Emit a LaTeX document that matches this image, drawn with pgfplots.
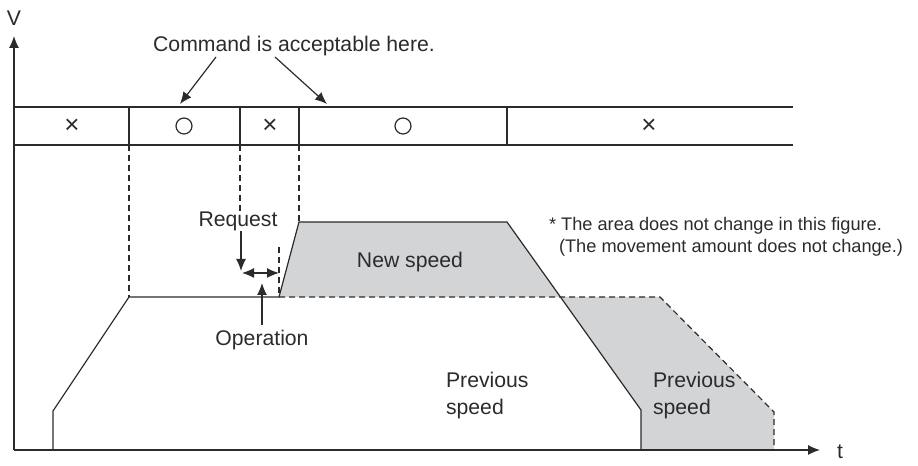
\documentclass[border=0pt]{standalone}
\usepackage{pgfplots}
\pgfplotsset{compat=1.18}
\usepackage{fontspec}
\setmainfont{Liberation Sans}
\usetikzlibrary{arrows.meta}

\definecolor{ink}{HTML}{2B2B2B}
\definecolor{area}{HTML}{D3D4D6}

\begin{document}
\begin{tikzpicture}[
    font=\fontsize{10.6}{13.5}\selectfont,
    >={Latex[length=6pt,width=5pt]},
]
\begin{axis}[
    scale only axis,
    width=459pt, height=230pt,
    xmin=0, xmax=918, ymin=0, ymax=460,
    hide axis,
    clip=false,
    cycle list={{ink, line width=0.6pt, mark=none}},
    every axis plot/.append style={ink, line width=0.6pt, mark=none},
    dash/.style={dash pattern=on 3pt off 2pt},
]
% frame that fixes the picture size
\addplot[draw=none] coordinates {(0,0) (918,460)};

% shaded areas
\addplot[draw=none, fill=area] coordinates {(279,163) (299,238) (507,238) (560.5,163) (279,163)};
\addplot[draw=none, fill=area] coordinates {(560.5,163) (660,163) (774,48) (774,10) (641,10) (641,50) (560.5,163)};

% axes
\addplot[->] coordinates {(14,10) (14,424)};
\addplot[->] coordinates {(14,10) (820,10)};

% status table
\addplot coordinates {(14,353) (793,353)};
\addplot coordinates {(14,315) (793,315)};
\addplot coordinates {(129,315) (129,353)};
\addplot coordinates {(240,315) (240,353)};
\addplot coordinates {(299,315) (299,353)};
\addplot coordinates {(507,315) (507,353)};

% dashed guides
\addplot[dash] coordinates {(129,315) (129,163)};
\addplot[dash] coordinates {(240,315) (240,248)};
\addplot[dash] coordinates {(299,315) (299,238)};
\addplot[dash] coordinates {(279,213) (279,163)};

% speed profiles
\addplot coordinates {(53,10) (53,49) (129,163) (279,163) (299,238) (507,238) (641,50) (641,10)};
\addplot[dash] coordinates {(279,163) (660,163) (774,48) (774,10)};

% arrows
\addplot[->] coordinates {(216,403) (180,356)};
\addplot[->] coordinates {(275,403) (327,356)};
\addplot[->] coordinates {(241,229) (241,189)};
\addplot[<->] coordinates {(242,187) (279,187)};
\addplot[->] coordinates {(262,135) (262,177)};

% symbols
\node[ink, font=\fontsize{13}{13}\selectfont] at (axis cs:72,334) {×};
\node[ink, font=\fontsize{13}{13}\selectfont] at (axis cs:270,334) {×};
\node[ink, font=\fontsize{13}{13}\selectfont] at (axis cs:649,334) {×};
\node[draw=ink, line width=0.6pt, circle, inner sep=0pt, minimum size=8pt] at (axis cs:184,334) {};
\node[draw=ink, line width=0.6pt, circle, inner sep=0pt, minimum size=8pt] at (axis cs:403,334) {};

% labels
\node[ink] at (axis cs:14,442) {V};
\node[ink] at (axis cs:840,8) {t};
\node[ink] at (axis cs:294,414) {Command is acceptable here.};
\node[ink] at (axis cs:238,239) {Request};
\node[ink] at (axis cs:262,120) {Operation};
\node[ink] at (axis cs:410,198) {New speed};
\node[ink, anchor=west, align=left] at (axis cs:439,64) {Previous\\speed};
\node[ink, anchor=west, align=left] at (axis cs:646,64) {Previous\\speed};
\node[ink, anchor=west, font=\fontsize{9.1}{11}\selectfont] at (axis cs:542,234) {* The area does not change in this figure.};
\node[ink, anchor=west, font=\fontsize{9.1}{11}\selectfont] at (axis cs:552,212) {(The movement amount does not change.)};
\end{axis}
\end{tikzpicture}
\end{document}
